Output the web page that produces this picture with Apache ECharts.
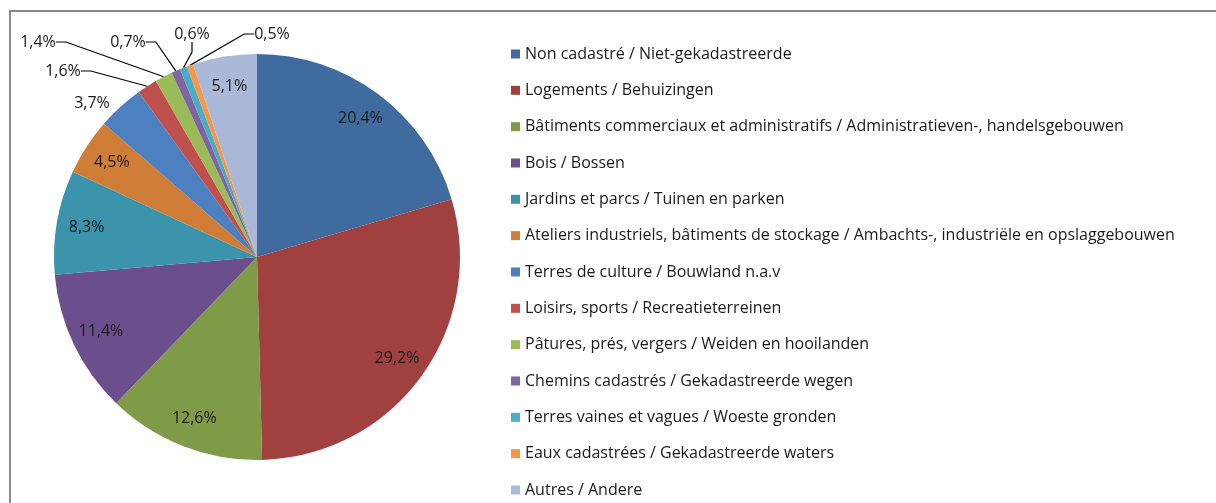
<!DOCTYPE html>
<html>
<head>
<meta charset="utf-8">
<script src="https://cdn.jsdelivr.net/npm/echarts@6/dist/echarts.min.js"></script>
<style>
  html, body { margin: 0; padding: 0; background: #fff; }
  #frame { position: absolute; left: 9px; top: 10px; width: 1260px; height: 560px; border: 2px solid #8c8c8c; }
  #chart { position: absolute; left: 0; top: 0; width: 1216px; height: 503px; }
</style>
</head>
<body>
<div id="frame"></div>
<div id="chart"></div>
<script>
// données (en %)
const categories = [
  'Non cadastré / Niet-gekadastreerde',
  'Logements / Behuizingen',
  'Bâtiments commerciaux et administratifs / Administratieven-, handelsgebouwen',
  'Bois / Bossen',
  'Jardins et parcs / Tuinen en parken',
  'Ateliers industriels, bâtiments de stockage / Ambachts-, industriële en opslaggebouwen',
  'Terres de culture / Bouwland n.a.v',
  'Loisirs, sports / Recreatieterreinen',
  'Pâtures, prés, vergers / Weiden en hooilanden',
  'Chemins cadastrés / Gekadastreerde wegen',
  'Terres vaines et vagues / Woeste gronden',
  'Eaux cadastrées / Gekadastreerde waters',
  'Autres / Andere'
];
const values = [20.4, 29.2, 12.6, 11.4, 8.3, 4.5, 3.7, 1.6, 1.4, 0.7, 0.6, 0.5, 5.1];

const colors = ['#3f6b9f', '#a04140', '#7f9b48', '#6a4f8c', '#3b94ab', '#d07d38', '#4d80c1',
  '#c0504d', '#9bbb59', '#8064a2', '#4bacc6', '#f79646', '#aab9d7'];

// position des étiquettes extérieures (petites parts)
const outsideLabelPos = {
  6: [92, 103], 7: [63, 71], 8: [38, 42], 9: [128, 42], 10: [192, 34], 11: [272, 34]
};

const FONT = '"Open Sans", sans-serif';
const fmt = (v) => v.toFixed(1).replace('.', ',') + '%';
const center = [257, 257];

const chart = echarts.init(document.getElementById('chart'));
chart.setOption({
  animation: false,
  color: colors,
  textStyle: { fontFamily: FONT },
  legend: {
    orient: 'vertical',
    left: 506,
    top: 40,
    height: 480,
    icon: 'rect',
    itemWidth: 9,
    itemHeight: 9,
    itemGap: 18.33,
    textStyle: { fontSize: 16, color: '#1a1a1a', lineHeight: 18, fontFamily: FONT },
    data: categories
  },
  series: [
    {
      // parts visibles + étiquettes extérieures
      type: 'pie',
      center: center,
      radius: 203,
      startAngle: 90,
      clockwise: true,
      avoidLabelOverlap: false,
      itemStyle: { borderWidth: 0 },
      emphasis: { disabled: true },
      data: categories.map((name, i) => ({
        name,
        value: values[i],
        label: { show: values[i] < 4 },
        labelLine: { show: values[i] < 3 }
      })),
      label: {
        position: 'outside',
        formatter: (p) => fmt(p.value),
        fontSize: 16,
        color: '#1a1a1a',
        fontFamily: FONT
      },
      labelLine: { length: 10, length2: 10, lineStyle: { color: '#000', width: 1.2 } },
      labelLayout: (p) => {
        const pos = outsideLabelPos[p.dataIndex];
        if (!pos) return {};
        return { x: pos[0], y: pos[1], align: 'center', verticalAlign: 'middle' };
      }
    },
    {
      // série transparente : étiquettes intérieures à ~0,84 du rayon
      type: 'pie',
      center: center,
      radius: [0, 340],
      startAngle: 90,
      clockwise: true,
      silent: true,
      itemStyle: { color: 'transparent' },
      emphasis: { disabled: true },
      data: categories.map((name, i) => ({
        name,
        value: values[i],
        label: { show: values[i] >= 4 }
      })),
      label: {
        position: 'inside',
        formatter: (p) => fmt(p.value),
        fontSize: 16,
        color: '#1a1a1a',
        fontFamily: FONT
      },
      labelLine: { show: false }
    }
  ]
});
</script>
</body>
</html>
